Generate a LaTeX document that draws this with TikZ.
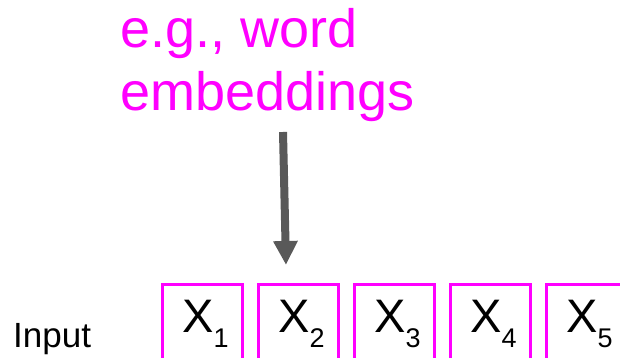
\documentclass[tikz,border=0pt]{standalone}
\usepackage{fontspec}
\setmainfont{Liberation Sans}
\usetikzlibrary{arrows.meta}
\definecolor{pink}{HTML}{FF00FF}
\definecolor{arrowgray}{HTML}{595959}
\tikzset{
  box/.style={draw=pink, line width=3pt, minimum width=80pt, minimum height=100pt, inner sep=0pt, anchor=north west},
  lbl/.style={inner sep=0pt, anchor=base west, font=\fontsize{47}{54}\selectfont},
}
\newcommand{\xsub}[1]{X\raisebox{-15pt}{\fontsize{27}{27}\selectfont #1}}
\begin{document}
\begin{tikzpicture}[x=1pt,y=-1pt]
\useasboundingbox (0,0) rectangle (620,358);
\clip (0,0) rectangle (620,358);
\foreach \i in {1,...,5}{
  \node[box] (b\i) at ({161+96*(\i-1)},283) {};
  \node[lbl] (x\i) at ({182+96*(\i-1)},332) {\xsub{\i}};
}
\node[inner sep=0pt, anchor=base west, font=\fontsize{35}{42}\selectfont] (input) at (13,347) {Input};
\node[inner sep=0pt, anchor=base west, align=left, text=pink, font=\fontsize{54}{63}\selectfont] (emb) at (120,111) {e.g., word\\embeddings};
\coordinate (a1) at (283,132);
\coordinate (a2) at (286,265);
\draw[arrowgray, line width=8pt, -{Triangle[width=23pt,length=24pt]}] (a1) -- (a2);
\end{tikzpicture}
\end{document}
